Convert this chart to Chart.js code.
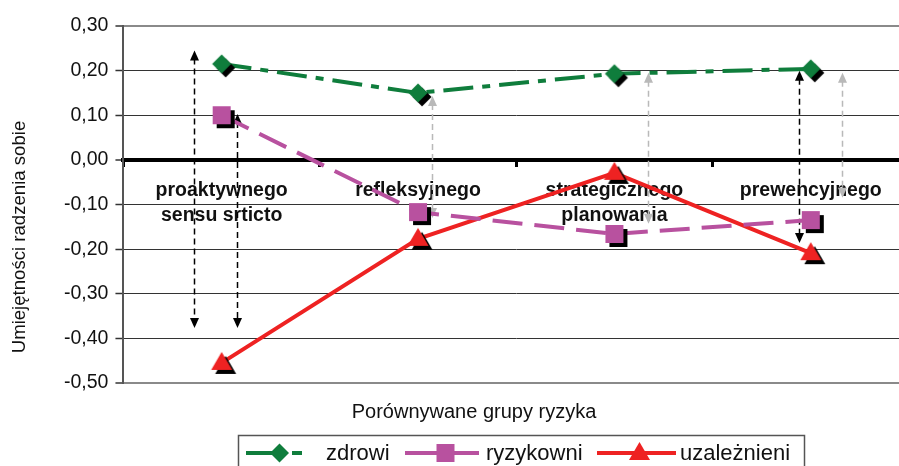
<!DOCTYPE html>
<html>
<head>
<meta charset="utf-8">
<script src="https://cdn.jsdelivr.net/npm/chart.js@4.4.0/dist/chart.umd.min.js"></script>
<style>
    html, body { margin: 0; padding: 0; background: #fff; overflow: hidden; }
    #wrap { width: 899px; height: 466px; overflow: hidden; }
    canvas { display: block; }
</style>
</head>
<body>
<div id="wrap"><canvas id="chart" width="923" height="466"></canvas></div>
<script>
// Dane wykresu
const categories = [['proaktywnego', 'sensu srticto'], 'refleksyjnego', ['strategicznego', 'planowania'], 'prewencyjnego'];
const zdrowi = [0.215, 0.150, 0.193, 0.204];
const ryzykowni = [0.100, -0.117, -0.166, -0.135];
const uzaleznieni = [-0.455, -0.177, -0.029, -0.209];
const yTickValues = [-0.5, -0.4, -0.3, -0.2, -0.1, 0, 0.1, 0.2, 0.3];

// Strzałki (pozycja kategorii, wartości końców)
const arrowPos = [-0.14, 0.08, 1.07, 2.17, 2.94, 3.16];
const arrowTop = [0.245, 0.103, 0.143, 0.195, 0.200, 0.195];
const arrowBottom = [-0.377, -0.377, -0.130, -0.143, -0.186, -0.085];
const arrowGrey = [false, false, true, true, false, true];

const FONT = 'Liberation Sans, Arial, sans-serif';
const GREEN = '#0f7d3c';
const MAGENTA = '#b8519f';
const RED = '#ee2222';

Chart.defaults.font.family = FONT;

// Kształty znaczników
function drawShape(g, shape, x, y, color) {
    g.fillStyle = color;
    g.beginPath();
    if (shape === 'diamond') {
        const r = 9.5;
        g.moveTo(x, y - r); g.lineTo(x + r, y); g.lineTo(x, y + r); g.lineTo(x - r, y);
    } else if (shape === 'square') {
        g.rect(x - 9, y - 9, 18, 18);
    } else {
        g.moveTo(x, y - 11); g.lineTo(x + 10.5, y + 7); g.lineTo(x - 10.5, y + 7);
    }
    g.closePath();
    g.fill();
}

function markerImage(shape, color) {
    const off = 4;
    const size = 2 * (12 + off) + 2;
    const c = document.createElement('canvas');
    c.width = size; c.height = size;
    const g = c.getContext('2d');
    drawShape(g, shape, size / 2 + off, size / 2 + off, '#000');
    drawShape(g, shape, size / 2, size / 2, color);
    return c;
}

const series = [
    { label: 'zdrowi', data: zdrowi, color: GREEN, dash: [30, 9, 8, 9], shape: 'diamond' },
    { label: 'ryzykowni', data: ryzykowni, color: MAGENTA, dash: [30, 12], shape: 'square' },
    { label: 'uzależnieni', data: uzaleznieni, color: RED, dash: [], shape: 'triangle' }
];

function drawArrowHead(ctx, x, y, dir, color) {
    ctx.fillStyle = color;
    ctx.beginPath();
    ctx.moveTo(x, y);
    ctx.lineTo(x - 4.5, y - dir * 10);
    ctx.lineTo(x + 4.5, y - dir * 10);
    ctx.closePath();
    ctx.fill();
}

const decorPlugin = {
    id: 'decor',
    beforeDatasetsDraw(chart) {
        const ctx = chart.ctx;
        const xs = chart.scales.x, ys = chart.scales.y;
        ctx.save();
        for (let i = 0; i < arrowPos.length; i++) {
            const x = Math.round(xs.getPixelForValue(arrowPos[i])) + 0.5;
            const y1 = ys.getPixelForValue(arrowTop[i]);
            const y2 = ys.getPixelForValue(arrowBottom[i]);
            const color = arrowGrey[i] ? '#b9b9b9' : '#000';
            ctx.strokeStyle = color;
            ctx.lineWidth = 1.5;
            ctx.setLineDash([6, 4]);
            ctx.beginPath();
            ctx.moveTo(x, y1 + 8);
            ctx.lineTo(x, y2 - 8);
            ctx.stroke();
            ctx.setLineDash([]);
            drawArrowHead(ctx, x, y1, -1, color);
            drawArrowHead(ctx, x, y2, 1, color);
        }
        ctx.restore();
    },
    afterDraw(chart) {
        const ctx = chart.ctx;
        ctx.save();
        ctx.fillStyle = '#111';
        // Tytuł osi Y
        ctx.font = '18.6px ' + FONT;
        ctx.textAlign = 'center';
        ctx.textBaseline = 'middle';
        ctx.translate(20, 237);
        ctx.rotate(-Math.PI / 2);
        ctx.fillText('Umiejętności radzenia sobie', 0, 0);
        ctx.setTransform(1, 0, 0, 1, 0, 0);
        // Tytuł osi X
        ctx.font = '20px ' + FONT;
        ctx.fillText('Porównywane grupy ryzyka', 474, 412);
        // Legenda
        ctx.strokeStyle = '#555';
        ctx.lineWidth = 1.5;
        ctx.strokeRect(238.5, 435.5, 566, 60);
        const legendX = [[246, 307, 326], [405, 480, 486], [597, 676, 680]];
        const ly = 453;
        ctx.font = '22px ' + FONT;
        ctx.textAlign = 'left';
        series.forEach((s, i) => {
            const [a, b, t] = legendX[i];
            ctx.strokeStyle = s.color;
            ctx.lineWidth = 4;
            ctx.setLineDash(s.dash.length ? [36, 10, 10, 10] : []);
            if (s.dash.length === 2) ctx.setLineDash([34, 10, 30, 10]);
            ctx.beginPath();
            ctx.moveTo(a, ly);
            ctx.lineTo(b, ly);
            ctx.stroke();
            ctx.setLineDash([]);
            drawShape(ctx, s.shape, (a + b) / 2 + 3, ly, s.color);
            ctx.fillStyle = '#111';
            ctx.fillText(s.label, t, ly + 1);
        });
        ctx.restore();
    }
};

new Chart(document.getElementById('chart').getContext('2d'), {
    type: 'line',
    data: {
        labels: categories,
        datasets: series.map(s => ({
            label: s.label,
            data: s.data,
            borderColor: s.color,
            backgroundColor: s.color,
            borderWidth: 4,
            borderDash: s.dash,
            pointStyle: markerImage(s.shape, s.color),
            pointRadius: 10,
            fill: false,
            tension: 0
        }))
    },
    options: {
        responsive: false,
        animation: false,
        devicePixelRatio: 1,
        layout: { padding: { left: 57, top: 26, right: 3, bottom: 83 } },
        plugins: {
            legend: { display: false },
            tooltip: { enabled: false }
        },
        scales: {
            x: {
                type: 'category',
                position: { y: 0 },
                offset: true,
                afterFit: s => { s.height = 0; },
                grid: { display: true, drawOnChartArea: false, offset: true, tickLength: 5, tickColor: '#000', tickWidth: 3 },
                border: { display: true, color: '#000', width: 4 },
                ticks: {
                    font: { size: 19.5, weight: 'bold', lineHeight: 1.25 },
                    color: '#111',
                    padding: 14,
                    autoSkip: false,
                    maxRotation: 0
                }
            },
            y: {
                min: -0.5,
                max: 0.3,
                afterBuildTicks: s => { s.ticks = yTickValues.map(v => ({ value: v })); },
                ticks: {
                    callback: v => v.toFixed(2).replace('.', ','),
                    font: { size: 19.5 },
                    color: '#111',
                    padding: 7
                },
                grid: {
                    color: c => Math.abs(c.tick.value) < 1e-9 ? '#000' : (c.tick.value > 0.25 || c.tick.value < -0.45 ? '#8a8a8a' : '#333'),
                    lineWidth: c => Math.abs(c.tick.value) < 1e-9 ? 4 : (c.tick.value > 0.25 || c.tick.value < -0.45 ? 2 : 1),
                    tickLength: 8,
                    tickColor: '#333',
                    tickWidth: 1.5
                },
                border: { display: true, color: '#555', width: 2 }
            }
        }
    },
    plugins: [decorPlugin]
});
</script>
</body>
</html>
